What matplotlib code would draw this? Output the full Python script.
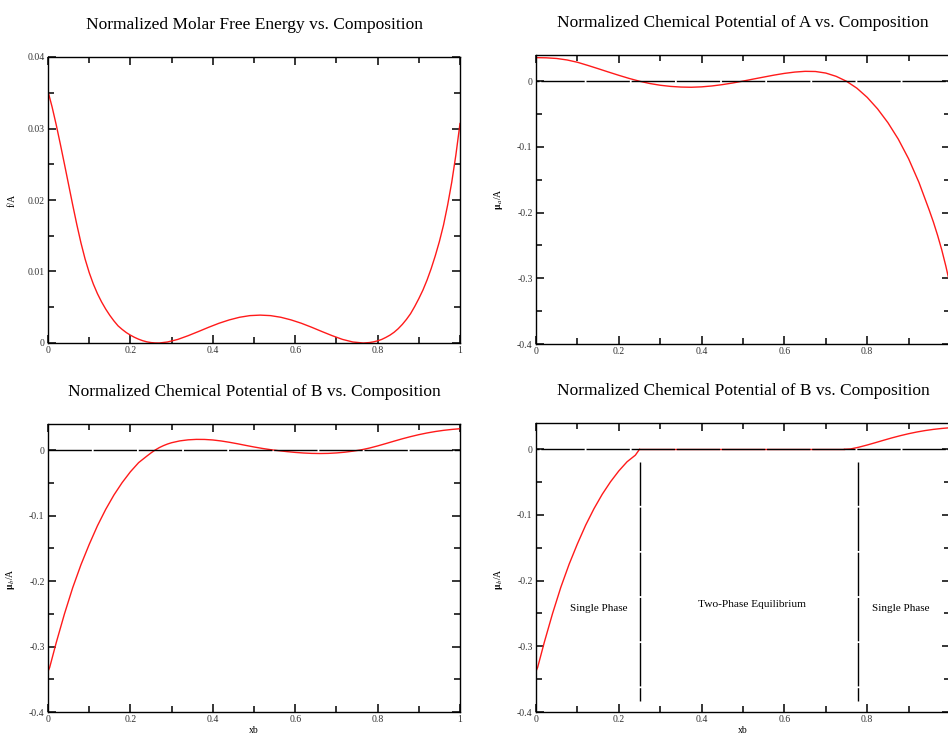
import numpy as np
import matplotlib
matplotlib.use("Agg")
import matplotlib.pyplot as plt
from matplotlib.ticker import MultipleLocator, FuncFormatter

plt.rcParams['font.family'] = ['Liberation Serif', 'DejaVu Serif']
plt.rcParams['mathtext.fontset'] = 'stix'
plt.rcParams['lines.scale_dashes'] = False

# ---- data ----
# normalized molar free energy f/A
x_f = [0.0, 0.01, 0.02, 0.03, 0.04, 0.05, 0.06, 0.07, 0.08, 0.09, 0.10, 0.11, 0.12, 0.13,
       0.14, 0.15, 0.16, 0.17, 0.18, 0.19, 0.20, 0.21, 0.22, 0.23, 0.24, 0.25, 0.26, 0.27,
       0.29, 0.315, 0.34, 0.365, 0.39, 0.415, 0.44, 0.465, 0.49, 0.515, 0.54, 0.565, 0.59,
       0.615, 0.64, 0.665, 0.69, 0.715, 0.74, 0.765, 0.78, 0.79, 0.80, 0.81, 0.82, 0.83,
       0.84, 0.85, 0.86, 0.87, 0.88, 0.89, 0.90, 0.91, 0.92, 0.93, 0.94, 0.95, 0.96, 0.97,
       0.98, 0.99, 1.0]
f_A = [0.0352, 0.0330, 0.0305, 0.0278, 0.0250, 0.02215, 0.0193, 0.01655, 0.0140, 0.01175,
       0.00985, 0.00825, 0.0069, 0.00575, 0.00475, 0.00387, 0.00309, 0.0024, 0.0019,
       0.00146, 0.0011, 0.00079, 0.00053, 0.00032, 0.00016, 0.00006, 0.00001, 0.0,
       0.00014, 0.0005, 0.00102, 0.0016, 0.0022, 0.00276, 0.00323, 0.0036, 0.00383, 0.0039,
       0.00383, 0.0036, 0.00323, 0.00276, 0.0022, 0.0016, 0.00102, 0.0005, 0.00014, 0.0,
       0.00006, 0.00016, 0.0003, 0.0005, 0.00078, 0.0011, 0.0015, 0.0020, 0.0026, 0.0033,
       0.0041, 0.0051, 0.0062, 0.0074, 0.0088, 0.0104, 0.0122, 0.0142, 0.0165, 0.0193,
       0.0225, 0.0263, 0.0307]

# chemical potential of A, mu_a/A
x_a = [0.0, 0.025, 0.05, 0.075, 0.1, 0.125, 0.15, 0.175, 0.2, 0.225, 0.25, 0.275, 0.3,
       0.325, 0.35, 0.375, 0.4, 0.425, 0.45, 0.475, 0.5, 0.525, 0.55, 0.575, 0.6, 0.625,
       0.65, 0.675, 0.7, 0.725, 0.75, 0.775, 0.8, 0.825, 0.85, 0.875, 0.9, 0.925, 0.95,
       0.96, 0.97, 0.98, 0.99, 1.0]
mu_a = [0.0360, 0.0357, 0.0347, 0.03245, 0.02895, 0.0242, 0.0192, 0.01408, 0.00908,
        0.00433, 0.00008, -0.00342, -0.00605, -0.0078, -0.0088, -0.0091, -0.0085, -0.00713,
        -0.00513, -0.00263, 0.00025, 0.00338, 0.00638, 0.00938, 0.0120, 0.0140, 0.01513,
        0.01488, 0.0125, 0.0075, 0.0, -0.0105, -0.0245, -0.042, -0.063, -0.088, -0.118,
        -0.154, -0.1965, -0.2145, -0.2345, -0.2565, -0.2815, -0.3095]

# chemical potential of B, mu_b/A
x_b = [0.0, 0.004, 0.02, 0.04, 0.06, 0.08, 0.10, 0.12, 0.14, 0.16, 0.18, 0.20, 0.22, 0.24,
       0.25, 0.26, 0.27, 0.28, 0.29, 0.30, 0.32, 0.34, 0.36, 0.38, 0.40, 0.42, 0.44, 0.46,
       0.48, 0.50, 0.52, 0.54, 0.56, 0.58, 0.60, 0.62, 0.64, 0.66, 0.68, 0.70, 0.72, 0.74,
       0.76, 0.78, 0.80, 0.82, 0.84, 0.86, 0.88, 0.90, 0.92, 0.94, 0.96, 0.98, 1.0]
mu_b = [-0.338, -0.332, -0.294, -0.250, -0.210, -0.175, -0.144, -0.1155, -0.0905, -0.0685,
        -0.0495, -0.033, -0.019, -0.009, -0.0042, 0.0002, 0.0039, 0.0069, 0.0094, 0.0114,
        0.0142, 0.0158, 0.0165, 0.0164, 0.0156, 0.0141, 0.0121, 0.0098, 0.0073, 0.0049,
        0.0027, 0.0008, -0.0008, -0.0022, -0.0034, -0.0043, -0.0049, -0.0051, -0.0049,
        -0.0042, -0.0031, -0.0015, 0.0005, 0.0032, 0.0065, 0.0101, 0.0138, 0.0174, 0.0207,
        0.0237, 0.0263, 0.0285, 0.0303, 0.0317, 0.0328]

# two-phase region limits and phase boundary lines
x_two = [0.25, 0.745]
x_bound = [0.25, 0.778]
y_bound = [-0.02, -0.383]

titles = ["Normalized Molar Free Energy vs. Composition",
          "Normalized Chemical Potential of A vs. Composition",
          "Normalized Chemical Potential of B vs. Composition",
          "Normalized Chemical Potential of B vs. Composition"]
ylabels = ["f/A", r"$\mathbf{\mu}_{a}$/A", r"$\mathbf{\mu}_{b}$/A", r"$\mathbf{\mu}_{b}$/A"]

W, H = 948, 736
fig = plt.figure(figsize=(W / 100, H / 100), dpi=100)
boxes = [(48, 57, 412, 286), (536, 55, 414, 289), (48, 424, 412, 288), (536, 423, 414, 289)]
axs = [fig.add_axes([l / W, 1 - (t + h) / H, w / W, h / H]) for l, t, w, h in boxes]

fmt = FuncFormatter(lambda v, p: "%g" % round(v, 4))
fmt_cut = FuncFormatter(lambda v, p: "" if v > 0.99 else "%g" % round(v, 4))
red = '#ff1a1a'

for i, ax in enumerate(axs):
    ax.set_xlim(0, 1)
    ax.xaxis.set_major_locator(MultipleLocator(0.2))
    ax.xaxis.set_minor_locator(MultipleLocator(0.1))
    if i == 0:
        ax.set_ylim(0, 0.04)
        ax.yaxis.set_major_locator(MultipleLocator(0.01))
        ax.yaxis.set_minor_locator(MultipleLocator(0.005))
    else:
        ax.set_ylim(-0.4, 0.04)
        ax.set_yticks([-0.4, -0.3, -0.2, -0.1, 0])
        ax.set_yticks([-0.35, -0.25, -0.15, -0.05], minor=True)
    ax.xaxis.set_major_formatter(fmt_cut if i % 2 == 1 else fmt)
    ax.yaxis.set_major_formatter(fmt)
    ax.tick_params(which='both', direction='in', top=True, right=True,
                   labelsize=7, labelcolor='#333333', pad=2.5)
    ax.tick_params(which='major', length=6, width=1.1)
    ax.tick_params(which='minor', length=4, width=1.1)
    for s in ax.spines.values():
        s.set_linewidth(1.0)
    ax.set_title(titles[i], fontsize=12.5, pad=20)
    ax.set_ylabel(ylabels[i], fontsize=7)
    ax.yaxis.set_label_coords(-0.075, 0.5 if i < 2 else 0.46)
    if i >= 2:
        ax.set_xlabel("xb", fontsize=7)
        ax.xaxis.label.set_va('bottom')
        ax.xaxis.set_label_coords(0.5, -0.08)

axs[0].plot(x_f, f_A, color=red, lw=1.0)

axs[1].plot(x_a, mu_a, color=red, lw=1.0)
axs[1].axhline(0, color='black', lw=1.0, ls=(29.0, (31.2, 1.3)), zorder=3)

axs[2].plot(x_b, mu_b, color=red, lw=1.0)
axs[2].axhline(0, color='black', lw=1.0, ls=(0, (31.2, 1.3)), zorder=3)

xb_arr = np.array(x_b)
mb_arr = np.array(mu_b)
left = xb_arr < x_two[0]
right = xb_arr > x_two[1]
axs[3].plot(np.append(xb_arr[left], x_two[0]), np.append(mb_arr[left], 0), color=red, lw=1.0)
axs[3].plot(x_two, [0, 0], color=red, lw=1.0)
axs[3].plot(np.insert(xb_arr[right], 0, x_two[1]), np.insert(mb_arr[right], 0, 0),
            color=red, lw=1.0)
axs[3].axhline(0, color='black', lw=1.0, ls=(29.0, (31.2, 1.3)), zorder=3)
for xv in x_bound:
    axs[3].plot([xv, xv], y_bound, color='black', lw=1.0, ls=(0, (31.2, 1.3)))
axs[3].text(0.152, -0.242, "Single Phase", fontsize=8, ha='center', va='center')
axs[3].text(0.522, -0.236, "Two-Phase Equilibrium", fontsize=8.2, ha='center', va='center')
axs[3].text(0.881, -0.242, "Single Phase", fontsize=8, ha='center', va='center')

fig.savefig("out.png", dpi=100)
